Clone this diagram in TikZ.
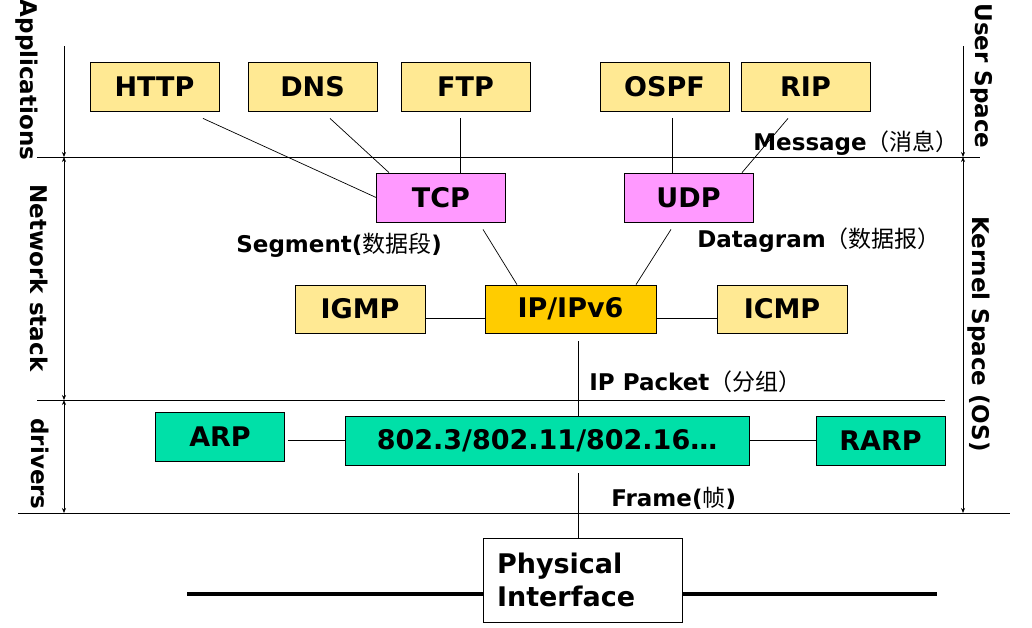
\documentclass[tikz,border=0pt]{standalone}
\usepackage{fontspec}
\setmainfont{DejaVu Sans}
\newfontfamily\cjk{Noto Sans CJK SC}
\newcommand\hanzi[1]{{\cjk\mdseries #1}}
\usetikzlibrary{positioning}
\usetikzlibrary{arrows.meta}

\definecolor{appyellow}{HTML}{FFE993}
\definecolor{tppink}{HTML}{FF99FF}
\definecolor{ipgold}{HTML}{FFCC00}
\definecolor{linkgreen}{HTML}{00E0A8}

\tikzset{
  proto/.style = {draw, line width=0.8pt, minimum width=129pt, minimum height=49pt,
                  inner sep=0pt, font=\fontsize{27}{30}\selectfont\bfseries},
  app/.style = {proto, fill=appyellow},
  transport/.style = {proto, fill=tppink},
  link/.style = {proto, fill=linkgreen},
  tag/.style = {inner sep=0pt, anchor=west, font=\fontsize{23}{26}\selectfont\bfseries},
  side/.style = {inner sep=0pt, rotate=-90, font=\fontsize{23}{26}\selectfont\bfseries}
}

\begin{document}
\begin{tikzpicture}
  [x=1pt, y=-1pt,
   every path/.style = {line width=0.7pt, >={Stealth[length=5pt,width=4pt]}}]
  \useasboundingbox (0,0) rectangle (1032,627);

  % application layer
  \node [app] (http) at (154.5,86.5) {HTTP};
  \node [app] (dns)  at (312.5,86.5) {DNS};
  \node [app] (ftp)  at (465.5,86.5) {FTP};
  \node [app] (ospf) at (664.5,86.5) {OSPF};
  \node [app] (rip)  at (805.5,86.5) {RIP};

  % transport and network
  \node [transport] (tcp) at (441,197.5) {TCP};
  \node [transport] (udp) at (688.5,197.5) {UDP};
  \node [app, minimum width=130pt, minimum height=48pt] (igmp) at (360,309) {IGMP};
  \node [proto, fill=ipgold, minimum width=171pt, minimum height=48pt] (ipv) at (570.5,309) {IP/IPv6};
  \node [app, minimum width=130pt, minimum height=48pt] (icmp) at (782,309) {ICMP};

  % drivers
  \node [link] (arp)  at (220,436.5) {ARP};
  \node [link, minimum width=404pt] (lan) at (547,440.5) {802.3/802.11/802.16…};
  \node [link] (rarp) at (880.5,440.5) {RARP};

  \node [proto, fill=white, minimum width=199pt, minimum height=84pt,
         text width=171pt, align=left, font=\fontsize{27}{33}\selectfont\bfseries]
        (phys) at (582.5,580) {Physical\\Interface};

  \coordinate (drop) at (578,0);
  \coordinate (busl) at (187,594);
  \coordinate (busr) at (937,594);

  % connectors
  \draw ([xshift=48.5pt,yshift=-7pt]http.south) -- (tcp.west);
  \draw ([xshift=17.5pt,yshift=-7pt]dns.south) -- ([xshift=-52pt]tcp.north);
  \draw ([xshift=-5.5pt,yshift=-7pt]ftp.south) -- ([xshift=19pt]tcp.north);
  \draw ([xshift=7.5pt,yshift=-7pt]ospf.south) -- ([xshift=-16.5pt]udp.north);
  \draw ([xshift=-17.5pt,yshift=-7pt]rip.south) -- ([xshift=53.5pt]udp.north);
  \draw ([xshift=42pt,yshift=-7pt]tcp.south) -- ([xshift=-53.5pt]ipv.north);
  \draw ([xshift=-17.5pt,yshift=-7pt]udp.south) -- ([xshift=65.5pt]ipv.north);
  \draw ([yshift=-9pt]igmp.east) -- ([yshift=-9pt]ipv.west);
  \draw ([yshift=-9pt]ipv.east) -- ([yshift=-9pt]icmp.west);
  \draw ([yshift=-8pt]ipv.south -| drop) -- (lan.north -| drop);
  \draw ([xshift=3pt]arp.east |- lan.west) -- (lan.west);
  \draw (lan.east) -- (rarp.west);
  \draw ([yshift=-8pt]lan.south -| drop) -- (phys.north -| drop);
  \draw [line width=4.5pt] (busl) -- (busl -| phys.west);
  \draw [line width=4.5pt] (busr -| phys.east) -- (busr);

  % layer borders
  \draw [line width=0.9pt] (37,157) -- (980,157);
  \draw [line width=0.9pt] (37,400) -- (945,400);
  \draw [line width=0.9pt] (18,513) -- (1010,513);
  \draw [->] (64,46) -- (64,157);
  \draw [<->] (64,157) -- (64,400);
  \draw [<->] (64,400) -- (64,513);
  \draw [->] (963,46) -- (963,157);
  \draw [<->] (963,157) -- (963,513);

  % unit names
  \node [tag] (msg) at (753,143) {Message\hanzi{（消息）}};
  \node [tag] (seg) at (236,245) {Segment(\hanzi{数据段})};
  \node [tag] (dgram) at (697,240) {Datagram\hanzi{（数据报）}};
  \node [tag] (pkt) at (589,382) {IP Packet\hanzi{（分组）}};
  \node [tag] (frame) at (611,498) {Frame(\hanzi{帧})};

  % side labels
  \node [side] (apps) at (27,80) {Applications};
  \node [side] (stack) at (39,278) {Network stack};
  \node [side] (drv) at (40,464) {drivers};
  \node [side] (user) at (982,76) {User Space};
  \node [side] (kern) at (979,334) {Kernel Space (OS)};
\end{tikzpicture}
\end{document}
